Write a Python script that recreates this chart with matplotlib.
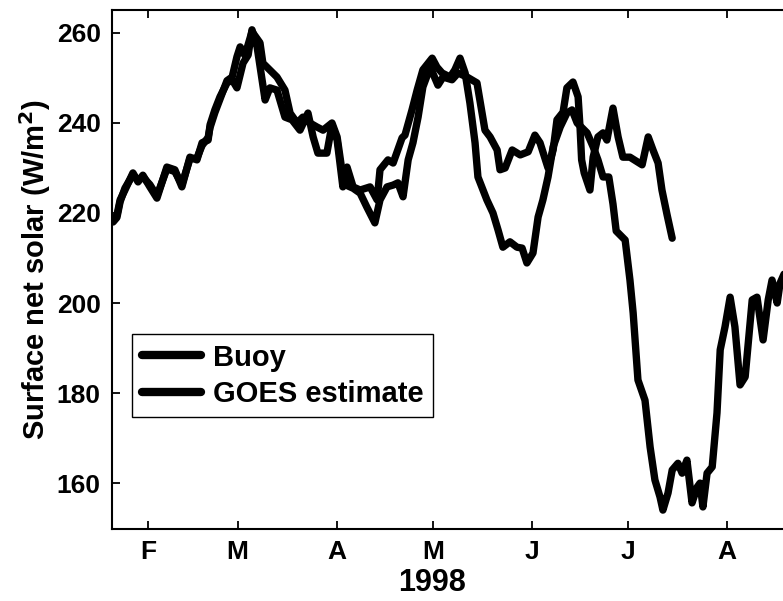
import matplotlib
matplotlib.use("Agg")
import matplotlib.pyplot as plt

plt.rcParams['font.family'] = ['Liberation Sans', 'DejaVu Sans']
plt.rcParams['font.weight'] = 'bold'

# Day of year 1998 and surface net solar (W/m^2), buoy record
buoy_day = [21.1, 22.3, 23.3, 24.8, 27.3, 28.9, 30.4, 32.6, 34.8, 37.9, 40.4, 42.6,
            45.1, 47.3, 48.9, 50.8, 51.4, 52.9, 54.5, 56.7, 58.3, 59.8, 60.8, 62.3,
            64.5, 67.0, 67.9, 72.3, 74.8, 76.4, 78.6, 80.4, 82.6, 84.8, 86.7, 89.5,
            91.1, 92.9, 94.5, 96.1, 98.3, 100.4, 102.9, 104.5, 106.7, 108.6, 110.1,
            111.7, 113.3, 114.8, 116.4, 117.9, 120.2, 122.6, 124.2, 127.0, 128.9,
            131.7, 134.8, 137.3, 138.9, 141.1, 142.0, 143.6, 145.8, 148.3, 150.8,
            152.9, 154.5, 157.0, 158.6, 159.8, 161.7, 162.9, 164.8, 166.4, 167.0,
            167.5, 168.3, 170.1, 171.1, 172.6, 174.2, 175.4, 177.3, 178.9, 180.4,
            182.6, 186.4, 188.3, 189.8, 191.4, 192.6, 194.2, 195.8]
buoy_val = [218.0, 219.0, 222.5, 225.5, 228.5, 227.3, 228.0, 226.3, 223.8, 229.8, 229.2, 226.3,
            232.0, 232.2, 235.0, 236.8, 239.0, 242.3, 245.3, 249.4, 250.2, 254.7, 256.9, 255.0,
            260.3, 257.8, 253.3, 250.2, 247.3, 242.2, 240.0, 241.3, 240.0, 239.1, 238.4, 240.0,
            236.9, 228.0, 226.0, 225.5, 224.4, 221.3, 217.8, 222.9, 225.8, 226.2, 226.7,
            223.6, 231.8, 235.6, 241.3, 248.0, 252.4, 248.4, 250.2, 249.6, 251.1,
            250.2, 248.9, 238.4, 236.9, 234.0, 229.6, 230.0, 234.0, 232.9, 233.6,
            237.3, 235.6, 230.0, 234.0, 240.7, 242.4, 247.8, 249.1, 245.8, 239.1,
            231.8, 228.9, 225.1, 232.4, 236.9, 237.8, 236.2, 243.3, 236.9, 232.4,
            232.4, 230.7, 236.9, 234.0, 231.1, 225.1, 219.6, 214.4]

# Day of year 1998 and surface net solar (W/m^2), GOES estimate
goes_day = [21.1, 22.3, 23.3, 24.8, 27.3, 28.9, 30.4, 32.6, 34.8, 37.9, 40.4, 42.6,
            45.1, 47.3, 48.9, 50.8, 51.4, 52.9, 54.5, 56.7, 58.3, 59.8, 61.7, 63.3,
            64.5, 66.1, 68.6, 70.1, 72.3, 74.8, 77.0, 79.5, 82.0, 83.6, 85.1, 87.9,
            89.5, 91.1, 92.9, 94.2, 96.1, 98.3, 101.4, 103.6, 104.5, 107.0, 108.6,
            111.4, 112.3, 114.5, 116.1, 117.9, 120.8, 122.3, 123.9, 126.4, 127.9,
            129.5, 131.1, 132.6, 134.2, 135.1, 137.9, 139.8, 141.4, 142.9, 145.1,
            147.3, 148.9, 150.4, 152.3, 153.9, 155.4, 157.0, 158.6, 160.8, 162.9,
            164.5, 166.1, 169.2, 171.1, 172.6, 174.2, 176.0, 177.3, 178.3, 181.1,
            182.6, 183.6, 185.1, 187.3, 188.9, 190.4, 192.0, 192.9, 194.5, 195.8,
            197.6, 198.9, 200.4, 202.0, 203.6, 204.5, 205.4, 206.7, 208.3, 209.8,
            210.8, 212.3, 213.9, 215.4, 217.0, 218.6, 220.8, 222.3, 224.2, 225.8,
            227.0, 228.6, 229.5, 231.1, 232.5]
goes_val = [218.4, 219.5, 222.9, 225.1, 228.9, 226.9, 228.4, 225.8, 223.3, 230.2, 229.6, 225.8,
            232.4, 231.8, 235.6, 236.2, 239.6, 242.9, 245.8, 248.9, 249.6, 247.8, 253.3, 255.1,
            260.7, 256.9, 245.1, 247.8, 247.3, 241.3, 240.7, 238.4, 242.2, 236.9, 233.3, 233.3,
            239.6, 236.2, 225.8, 230.2, 225.8, 225.1, 225.8, 222.9, 229.6, 231.8, 231.1,
            236.7, 237.3, 242.9, 247.3, 251.8, 254.4, 252.4, 251.1, 250.2, 251.8,
            254.4, 251.1, 244.4, 235.6, 228.0, 222.9, 220.0, 216.2, 212.4, 213.6,
            212.4, 212.2, 208.9, 211.1, 219.1, 222.9, 228.0, 234.7, 239.1, 242.2,
            242.9, 240.0, 237.8, 234.7, 231.8, 228.0, 228.0, 222.0, 216.0, 214.0,
            205.1, 197.8, 182.9, 178.4, 168.0, 160.7, 156.9, 154.0, 157.8, 162.9,
            164.4, 162.2, 165.1, 155.6, 159.1, 160.0, 154.7, 162.2, 163.6, 175.6,
            189.6, 194.7, 201.3, 194.7, 181.8, 183.6, 200.7, 201.3, 191.8, 200.7,
            205.1, 200.0, 204.4, 207.0, 206.0]

month_ticks = [32, 60, 91, 121, 152, 182, 213]
month_labels = ['F', 'M', 'A', 'M', 'J', 'J', 'A']
y_ticks = [160, 180, 200, 220, 240, 260]

fig = plt.figure(figsize=(7.83, 6.01), dpi=100)
ax = fig.add_axes([0.1430, 0.1198, 0.8659, 0.8636])

ax.plot(buoy_day, buoy_val, color='black', lw=5.3, solid_joinstyle='round',
        solid_capstyle='round', label='Buoy')
ax.plot(goes_day, goes_val, color='black', lw=5.3, solid_joinstyle='round',
        solid_capstyle='round', label='GOES estimate')

ax.set_xlim(20.75, 232.6)
ax.set_ylim(149.8, 265.1)
ax.set_xticks(month_ticks)
ax.set_xticklabels(month_labels)
ax.set_yticks(y_ticks)

ax.tick_params(axis='both', direction='in', length=6, width=1.3,
               labelsize=19, top=True, right=False)
ax.tick_params(axis='x', pad=8)
ax.tick_params(axis='y', pad=8)
for lab in ax.get_xticklabels() + ax.get_yticklabels():
    lab.set_fontweight('bold')
for sp in ax.spines.values():
    sp.set_linewidth(1.5)

ax.set_ylabel('Surface net solar (W/m$^\\mathbf{2}$)', fontsize=21, fontweight='bold')
ax.yaxis.set_label_coords(-0.087, 0.5)
fig.text(432 / 783, 1 - 583 / 601, '1998', fontsize=22, fontweight='bold',
         ha='center', va='center')

leg = ax.legend(loc='upper left', bbox_to_anchor=(132 / 783, 1 - 334 / 601),
                bbox_transform=fig.transFigure, borderaxespad=0,
                prop={'size': 21, 'weight': 'bold'}, handlelength=2.05,
                handletextpad=0.4, borderpad=0.33, labelspacing=0.28,
                fancybox=False, framealpha=1)
leg.get_frame().set_edgecolor('black')
leg.get_frame().set_linewidth(1.0)
for h in leg.get_lines():
    h.set_linewidth(6)

fig.savefig('out.png', dpi=100)
